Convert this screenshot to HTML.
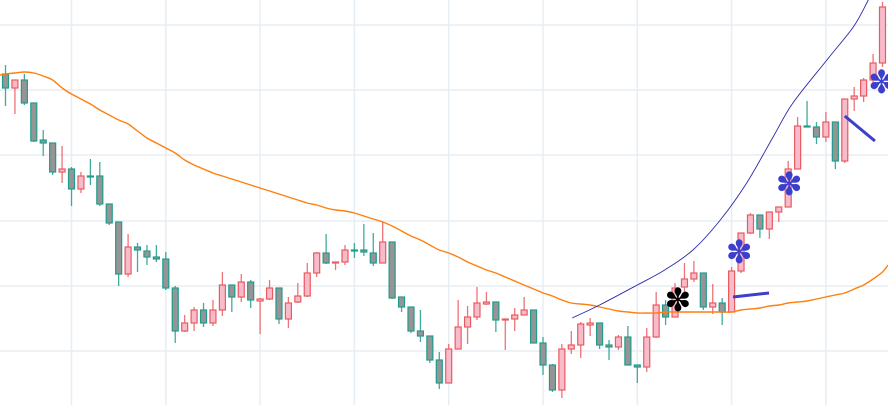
<!DOCTYPE html>
<html><head><meta charset="utf-8"><style>
html,body{margin:0;padding:0;background:#fff;}
svg{display:block;font-family:"DejaVu Sans","Liberation Sans",sans-serif;}
</style></head><body>
<svg id="chart" width="888" height="405" viewBox="0 0 888 405" xmlns="http://www.w3.org/2000/svg">
<g id="grid"></g>
<g id="candles"></g>
<g id="overlays"></g>
</svg>
<script>
const opens=[331,317,325,302,265,262,233,236,216,229,229,201,183,131,158,154,148,146,117,74,82,95,82,95,120,108,123,104,106,117,86,103,109,132,152,142,143,155,155,152,142,163,108,98,74,69,45,22,56,78,88,101,103,85,86,90,95,62,40,15,56,60,80,82,60,58,68,40,38,68,100,88,118,126,132,98,102,93,134,172,190,176,193,198,236,279,278,268,283,244,306,309,325,342];
const highs=[340,325,331,302,275,262,259,238,233,246,243,201,183,171,162,160,160,153,119,90,98,102,105,133,120,131,125,107,125,117,108,122,142,153,171,143,160,162,181,172,183,163,108,98,95,69,53,61,105,99,118,113,103,86,97,108,95,68,41,61,74,83,87,82,65,70,79,40,77,113,105,122,142,144,132,121,107,138,172,192,190,193,198,244,288,304,283,293,283,306,318,327,351,403];
const lows=[299,291,300,263,249,230,222,199,212,220,199,180,119,128,133,140,143,115,62,73,74,78,79,89,93,103,97,71,105,81,77,102,108,128,141,135,140,147,149,139,142,106,93,72,63,42,16,22,56,61,85,100,73,55,74,90,62,30,13,7,51,47,69,56,45,55,40,22,33,67,80,88,113,123,95,91,80,93,132,171,167,166,183,198,236,278,261,263,236,242,294,303,320,338];
const closes=[317,325,302,264,262,233,236,216,229,228,201,182,131,158,155,148,146,117,74,82,95,82,95,120,108,123,105,106,117,86,102,109,132,152,142,143,155,154,153,142,163,107,98,74,69,45,22,56,78,88,102,103,85,86,90,95,62,40,15,56,60,81,82,60,58,68,40,38,68,100,88,117,126,132,98,102,93,134,172,190,176,193,198,236,279,278,268,283,244,306,309,325,342,398];
const maValues=[331,332,333,332,329,325,317,311,306,301,295,290,285,281,274,267,262,257,252,245,240,236,232,229,226,223,220,217,214,211,208,205,202,200,197,195,194,192,189,186,183,179,174,169,165,160,155,152,148,143,139,135,132,128,124,120,116,112,109,105,102,101,100,98,96,94,93,92,92,92,93,93,93,93,93,93,93,93,95,96,97,99,100,102,103,104,106,108,110,112,116,120,126,133];
const curveIdx=[60.1,63,67,69.9,72.9,75.8,78.6,81.4,83.5,87.1,89.9,91.5];
const curveVal=[87,100,120,135,155,185,222,268,302,345,378,405];
const trendIdx1=[77.15,80.97], trendVal1=[108,112];
const trendIdx2=[89.0,92.2], trendVal2=[289,264];
const markerIdx=[71.3,77.8,83.1,92.9];
const markerVal=[107,155,223,325];
const markerColors=["#000","#3b3fcc","#3b3fcc","#3b3fcc"];
const gridVals=[380,315,250,184,119,54];
const gridIdx=[7,17,27,37,47,57,67,77,87];

const NS="http://www.w3.org/2000/svg";
function xs(i){return 5.5+9.43*i;}
function ys(v){return 405-v;}
function mk(tag,attrs,parent){const e=document.createElementNS(NS,tag);for(const k in attrs)e.setAttribute(k,attrs[k]);parent.appendChild(e);return e;}
function smooth(pts){let d='M'+pts[0][0].toFixed(1)+' '+pts[0][1].toFixed(1);
 for(let i=0;i<pts.length-1;i++){const p0=pts[Math.max(i-1,0)],p1=pts[i],p2=pts[i+1],p3=pts[Math.min(i+2,pts.length-1)];
 const c1=[p1[0]+(p2[0]-p0[0])/6,p1[1]+(p2[1]-p0[1])/6],c2=[p2[0]-(p3[0]-p1[0])/6,p2[1]-(p3[1]-p1[1])/6];
 d+=' C'+c1[0].toFixed(1)+' '+c1[1].toFixed(1)+' '+c2[0].toFixed(1)+' '+c2[1].toFixed(1)+' '+p2[0].toFixed(1)+' '+p2[1].toFixed(1);}
 return d;}
const grid=document.getElementById('grid'),cg=document.getElementById('candles'),ov=document.getElementById('overlays');
gridVals.forEach(v=>{const l=mk('line',{x1:0,x2:888,y1:ys(v),y2:ys(v),stroke:'#e6edf3','stroke-width':1.5},grid);

});
gridIdx.forEach(i=>{const l=mk('line',{x1:xs(i),x2:xs(i),y1:0,y2:405,stroke:'#e6edf3','stroke-width':1.5},grid);

});
for(let i=0;i<opens.length;i++){
 const up=closes[i]>opens[i];
 const stroke=up?'#ea5a5f':'#1f9c8c',fill=up?'#f7bccb':'#959595';
 const g=mk('g',{},cg);
 
 
 mk('line',{x1:xs(i),x2:xs(i),y1:ys(highs[i]),y2:ys(lows[i]),stroke:stroke,'stroke-width':1.3,'stroke-opacity':0.85},g);
 const t=ys(Math.max(opens[i],closes[i])),b=ys(Math.min(opens[i],closes[i]));
 mk('rect',{x:xs(i)-3,y:t,width:6,height:Math.max(b-t,1),fill:fill,stroke:stroke,'stroke-width':1.2},g);
}
const maPts=maValues.map((v,i)=>[xs(i),ys(v)]);
maPts.unshift([0,ys(maValues[0])+1]);
maPts.push([888,ys(maValues[maValues.length-1])-7]);
const ma=mk('path',{d:smooth(maPts),fill:'none',stroke:'#ff7f0e','stroke-width':1.4},ov);


const cPts=curveIdx.map((x,i)=>[xs(x),ys(curveVal[i])]);
const cv=mk('path',{d:smooth(cPts),fill:'none',stroke:'#2a2aa8','stroke-width':0.9},ov);


const t1=mk('line',{x1:xs(trendIdx1[0]),y1:ys(trendVal1[0]),x2:xs(trendIdx1[1]),y2:ys(trendVal1[1]),stroke:'#3b3fcc','stroke-width':3},ov);


const t2=mk('line',{x1:xs(trendIdx2[0]),y1:ys(trendVal2[0]),x2:xs(trendIdx2[1]),y2:ys(trendVal2[1]),stroke:'#3b3fcc','stroke-width':3},ov);


markerIdx.forEach((x,i)=>{const tx=mk('text',{x:xs(x),y:ys(markerVal[i])+13,'text-anchor':'middle','font-size':32,fill:markerColors[i]},ov);
tx.textContent='✽';

});
</script>
</body></html>
